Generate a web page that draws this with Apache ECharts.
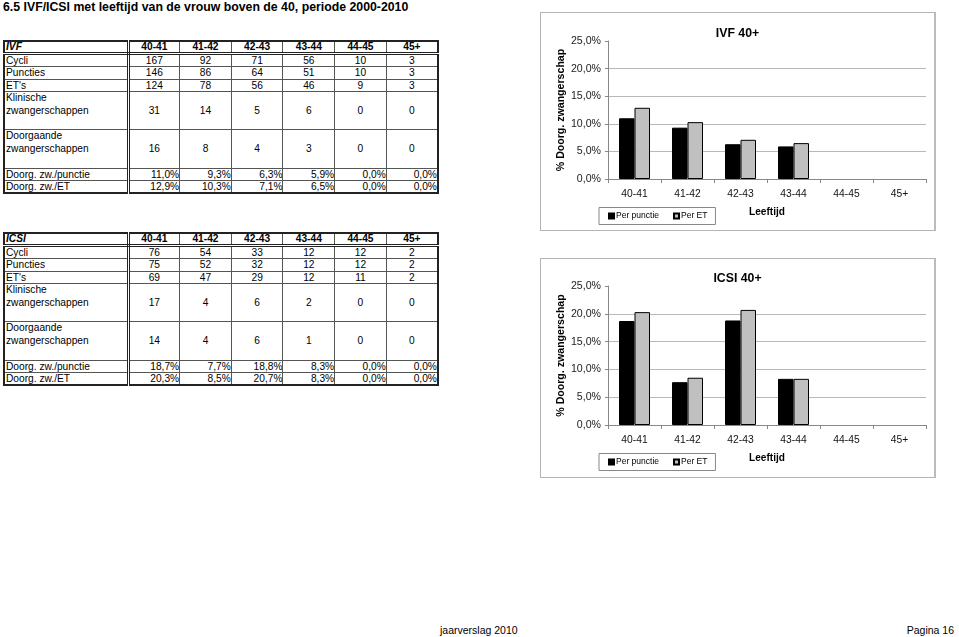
<!DOCTYPE html>
<html>
<head>
<meta charset="utf-8">
<script src="https://cdn.jsdelivr.net/npm/echarts@6/dist/echarts.min.js"></script>
<style>
  html, body { margin:0; padding:0; background:#fff; }
  body { width:959px; height:637px; position:relative; overflow:hidden; font-family:"Liberation Sans", Arial, sans-serif; color:#000; }
  #title { position:absolute; left:3px; top:0px; font-size:12.3px; font-weight:bold; white-space:nowrap; line-height:14px; }
  table.t { position:absolute; left:3px; width:434px; border-collapse:collapse; table-layout:fixed; font-size:10.2px; border:2px solid #222; }
  table.t td { border:1px solid #555; padding:0 1px; line-height:11px; text-align:center; vertical-align:middle; white-space:nowrap; overflow:hidden; }
  table.t tr.tall td { line-height:12.4px; }
  table.t td.lab { text-align:left; border-right:3px double #222; padding-left:1px; }
  table.t tr.hd td { font-weight:bold; border-bottom:3px double #222; line-height:10px; }
  table.t tr.hd td.lab { font-style:italic; }
  table.t tr.pct td { text-align:right; padding-right:0; }
  table.t tr.pct td.lab { text-align:left; }
  .chart { position:absolute; left:540px; width:396px; border:1px solid #b4b4b4; border-right:2px solid #bcbcbc; box-sizing:border-box; }
  .foot { position:absolute; top:624px; font-size:10.5px; white-space:nowrap; }
</style>
</head>
<body>
<div id="title">6.5 IVF/ICSI met leeftijd van de vrouw boven de 40, periode 2000-2010</div>
<table class="t" id="ivfTable" style="top:40px"></table>
<table class="t" id="icsiTable" style="top:232px"></table>
<div class="chart" id="ivfChart" style="top:12px;height:219px"></div>
<div class="chart" id="icsiChart" style="top:258px;height:220px"></div>
<div class="foot" style="left:440px">jaarverslag 2010</div>
<div class="foot" style="right:5px">Pagina 16</div>
<script>
// ---- data ----
const categories = ['40-41', '41-42', '42-43', '43-44', '44-45', '45+'];

const ivfCycli = [167, 92, 71, 56, 10, 3];
const ivfPuncties = [146, 86, 64, 51, 10, 3];
const ivfETs = [124, 78, 56, 46, 9, 3];
const ivfKlinisch = [31, 14, 5, 6, 0, 0];
const ivfDoorgaand = [16, 8, 4, 3, 0, 0];
const ivfPerPunctie = [11.0, 9.3, 6.3, 5.9, 0.0, 0.0];
const ivfPerET = [12.9, 10.3, 7.1, 6.5, 0.0, 0.0];

const icsiCycli = [76, 54, 33, 12, 12, 2];
const icsiPuncties = [75, 52, 32, 12, 12, 2];
const icsiETs = [69, 47, 29, 12, 11, 2];
const icsiKlinisch = [17, 4, 6, 2, 0, 0];
const icsiDoorgaand = [14, 4, 6, 1, 0, 0];
const icsiPerPunctie = [18.7, 7.7, 18.8, 8.3, 0.0, 0.0];
const icsiPerET = [20.3, 8.5, 20.7, 8.3, 0.0, 0.0];

const yTicks = { min: 0, max: 25, interval: 5 };

// ---- helpers ----
function pct(v) { return v.toFixed(1).replace('.', ',') + '%'; }

function buildTable(id, name, d) {
  const t = document.getElementById(id);
  const w = (434 - 124) / 6;
  let h = '<colgroup><col style="width:124px">' + categories.map(() => '<col style="width:' + w + 'px">').join('') + '</colgroup>';
  h += '<tr class="hd" style="height:10px"><td class="lab">' + name + '</td>' + categories.map(c => '<td>' + c + '</td>').join('') + '</tr>';
  const rows = [
    ['Cycli', d.cycli, 12.6, ''],
    ['Puncties', d.puncties, 12.6, ''],
    ["ET's", d.ets, 12.6, ''],
    ['Klinische<br>zwangerschappen<br>&nbsp;', d.klin, 37.5, 'tall'],
    ['Doorgaande<br>zwangerschappen<br>&nbsp;', d.doorg, 37.5, 'tall'],
    ['Doorg. zw./punctie', d.pp.map(pct), 12.6, 'pct'],
    ['Doorg. zw./ET', d.pe.map(pct), 12.6, 'pct']
  ];
  rows.forEach(r => {
    h += '<tr class="' + r[3] + '" style="height:' + r[2] + 'px"><td class="lab">' + r[0] + '</td>' +
      r[1].map(v => '<td>' + v + '</td>').join('') + '</tr>';
  });
  t.innerHTML = h;
}

buildTable('ivfTable', 'IVF', { cycli: ivfCycli, puncties: ivfPuncties, ets: ivfETs, klin: ivfKlinisch, doorg: ivfDoorgaand, pp: ivfPerPunctie, pe: ivfPerET });
buildTable('icsiTable', 'ICSI', { cycli: icsiCycli, puncties: icsiPuncties, ets: icsiETs, klin: icsiKlinisch, doorg: icsiDoorgaand, pp: icsiPerPunctie, pe: icsiPerET });

function barData(vals) {
  // zero-height bars get no outline, like the original
  return vals.map(v => (v === 0 ? { value: v, itemStyle: { borderWidth: 0, opacity: 0 } } : v));
}

function makeChart(el, title, a, b, gridTop) {
  const chart = echarts.init(document.getElementById(el), null, { renderer: 'canvas' });
  const font = '"Liberation Sans", Arial, sans-serif';
  chart.setOption({
    animation: false,
    textStyle: { fontFamily: font },
    title: {
      text: title, left: 'center', top: gridTop - 13, padding: 0,
      textStyle: { fontFamily: font, fontSize: 12.3, fontWeight: 'bold', color: '#000' }
    },
    grid: { left: 67, top: gridTop, width: 318, height: 166 - gridTop, containLabel: false },
    legend: {
      left: 58, top: 194.5, orient: 'horizontal',
      borderColor: '#888', borderWidth: 1, padding: [4, 8, 4, 9],
      itemWidth: 5, itemHeight: 5, itemGap: 14, icon: 'rect',
      textStyle: { fontFamily: font, fontSize: 8.5, color: '#000', padding: [0, 0, 0, -3] },
      data: ['Per punctie', 'Per ET']
    },
    xAxis: {
      type: 'category', data: categories,
      name: 'Leeftijd', nameLocation: 'middle', nameGap: 28, nameMoveOverlap: false,
      nameTextStyle: { fontFamily: font, fontSize: 10.1, fontWeight: 'bold', color: '#000' },
      axisLine: { lineStyle: { color: '#888', width: 1 } },
      axisTick: { show: true, alignWithLabel: false, length: 4, lineStyle: { color: '#888' } },
      axisLabel: { fontSize: 10.3, color: '#111', margin: 10, fontFamily: font },
      splitLine: { show: false }
    },
    yAxis: {
      type: 'value', min: yTicks.min, max: yTicks.max, interval: yTicks.interval,
      name: '% Doorg. zwangerschap', nameLocation: 'middle', nameGap: 41, nameRotate: 90,
      nameMoveOverlap: false,
      nameTextStyle: { fontFamily: font, fontSize: 10.6, fontWeight: 'bold', color: '#000' },
      axisLine: { show: true, lineStyle: { color: '#888', width: 1 } },
      axisTick: { show: true, length: 3, lineStyle: { color: '#888' } },
      axisLabel: { fontSize: 10.6, color: '#222', margin: 7, fontFamily: font, formatter: v => pct(v) },
      splitLine: { show: true, showMaxLine: false, lineStyle: { color: '#b8b8b8', width: 1 } }
    },
    series: [
      { name: 'Per punctie', type: 'bar', data: barData(a), barWidth: 15.5, barGap: '0%',
        itemStyle: { color: '#000', borderColor: '#000', borderWidth: 1 } },
      { name: 'Per ET', type: 'bar', data: barData(b), barWidth: 15.5, barGap: '0%',
        itemStyle: { color: '#c0c0c0', borderColor: '#000', borderWidth: 1 } }
    ]
  });
}

makeChart('ivfChart', 'IVF 40+', ivfPerPunctie, ivfPerET, 28);
makeChart('icsiChart', 'ICSI 40+', icsiPerPunctie, icsiPerET, 27);
</script>
</body>
</html>
